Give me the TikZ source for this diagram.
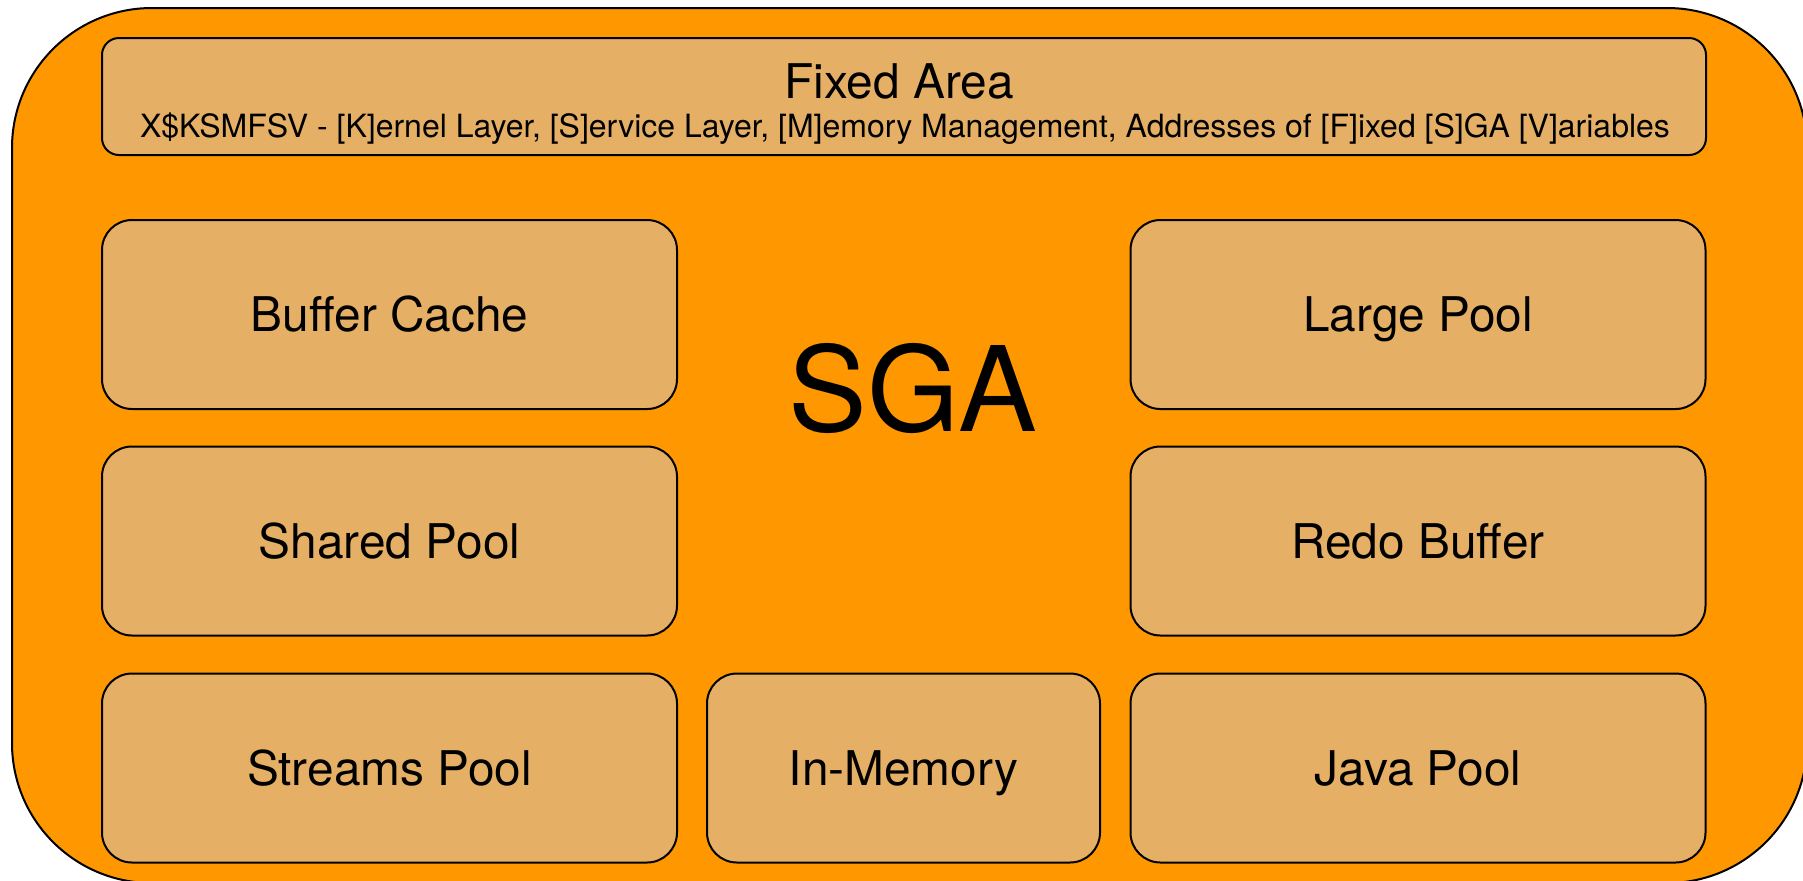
\documentclass[tikz,border=0pt]{standalone}
\usepackage{fontspec}
\setmainfont{TeX Gyre Heros}
\usepackage{tikz}
\definecolor{sgaorange}{RGB}{255,152,0}
\definecolor{poolfill}{RGB}{229,176,101}

\begin{document}
\begin{tikzpicture}[x=0.5pt, y=-0.5pt,
    pool/.style={draw, line width=1pt, fill=poolfill, rounded corners=15pt,
      minimum width=287.5pt, minimum height=94.5pt, inner sep=0pt,
      text height=17.1pt, text depth=0pt,
      font=\fontsize{23.9}{28}\selectfont},
    label/.style={inner sep=0pt, anchor=base}]

    \useasboundingbox (0, 0) rectangle (1803, 880);
    \clip (0, 0) rectangle (1803, 880);

    % outer SGA area
    \draw [line width=1pt, fill=sgaorange, rounded corners=70pt] (12, 8) rectangle (1807, 883);
    \node (sga) at (913, 388) {\fontsize{59}{70}\selectfont SGA};

    % fixed area on top
    \node [pool, rounded corners=8.5pt, minimum width=802pt, minimum height=58.5pt] (fixed) at (904, 96.5) {};
    \node [label, font=\fontsize{23.9}{28}\selectfont] (fixedname) at (899, 98) {Fixed Area};
    \node [label, font=\fontsize{16}{20}\selectfont] (fixedvars) at (905, 137) {X\$KSMFSV - [K]ernel Layer, [S]ervice Layer, [M]emory Management, Addresses of [F]ixed [S]GA [V]ariables};

    % pools
    \node [pool] (buffer) at (389.5, 314.5) {Buffer Cache};
    \node [pool] (shared) at (389.5, 541) {Shared Pool};
    \node [pool] (streams) at (389.5, 768) {Streams Pool};
    \node [pool, minimum width=196.5pt] (inmem) at (903.5, 768) {In-Memory};
    \node [pool] (large) at (1418, 314.5) {Large Pool};
    \node [pool] (redo) at (1418, 541) {Redo Buffer};
    \node [pool] (java) at (1418, 768) {Java Pool};

\end{tikzpicture}
\end{document}
